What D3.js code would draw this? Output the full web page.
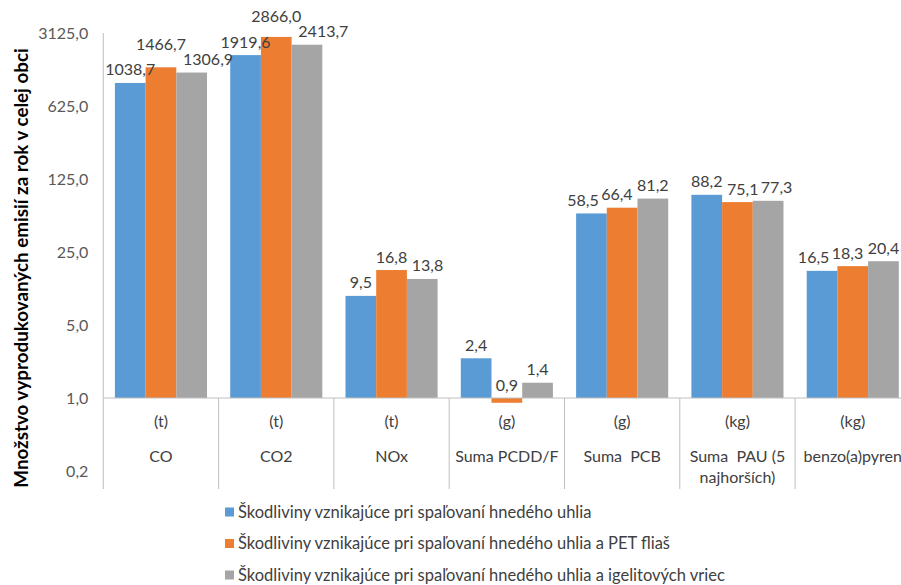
<!DOCTYPE html>
<html>
<head>
<meta charset="utf-8">
<script src="https://cdn.jsdelivr.net/npm/d3@7"></script>
<style>
  html, body { margin: 0; padding: 0; background: #fff; overflow: hidden; }
  svg { display: block; font-family: Lato, "Open Sans", sans-serif; }
</style>
</head>
<body>
<svg id="chart" width="901" height="585"></svg>
<script>
// ---- data ----
const categories = ["CO", "CO2", "NOx", "Suma PCDD/F", "Suma  PCB", "Suma  PAU (5\nnajhorších)", "benzo(a)pyren"];
const units = ["(t)", "(t)", "(t)", "(g)", "(g)", "(kg)", "(kg)"];
const seriesNames = [
  "Škodliviny vznikajúce pri spaľovaní hnedého uhlia",
  "Škodliviny vznikajúce pri spaľovaní hnedého uhlia a PET fliaš",
  "Škodliviny vznikajúce pri spaľovaní hnedého uhlia a igelitových vriec"
];
const seriesBrownCoal = [1038.7, 1919.6, 9.5, 2.4, 58.5, 88.2, 16.5];
const seriesPET = [1466.7, 2866.0, 16.8, 0.9, 66.4, 75.1, 18.3];
const seriesPlastic = [1306.9, 2413.7, 13.8, 1.4, 81.2, 77.3, 20.4];
const yTicks = [0.2, 1, 5, 25, 125, 625, 3125];
const colors = ["#5B9BD5", "#ED7D31", "#A5A5A5"];
const yTitle = "Množstvo vyprodukovaných emisií za rok v celej obci";

const seriesValues = [seriesBrownCoal, seriesPET, seriesPlastic];
const fmt = v => d3.format(".1f")(v).replace(".", ",");
const FS = "16px";

const svg = d3.select("#chart");
const plotLeft = 103.3, catW = 115.3;
const plotTop = 33, plotBottom = 489;

const x = d3.scaleBand().domain(categories).range([plotLeft, plotLeft + catW * categories.length]).padding(0);
const xi = d3.scaleBand().domain(d3.range(seriesNames.length)).range([11.6, catW - 11.6]).padding(0);
const y = d3.scaleLog().base(5).domain([0.2, 3125]).range([471, 33]);
const base = 1;

// y axis tick labels
const yAxis = d3.axisLeft(y).tickValues(yTicks).tickFormat(fmt).tickSize(0).tickPadding(15);
const gy = svg.append("g").attr("transform", `translate(${plotLeft},0)`).call(yAxis);
gy.select(".domain").remove();
gy.selectAll("text").attr("fill", "#595959").style("font-size", FS).style("font-family", "Lato, sans-serif");

// axis lines
svg.append("line").attr("x1", plotLeft).attr("x2", plotLeft).attr("y1", plotTop).attr("y2", plotBottom)
  .attr("stroke", "#BFBFBF").attr("stroke-width", 1);

// bars
const groups = svg.append("g").selectAll("g").data(categories).join("g")
  .attr("transform", c => `translate(${x(c)},0)`);
groups.each(function(c, ci) {
  const g = d3.select(this);
  seriesValues.forEach((vals, si) => {
    const v = vals[ci];
    const y0 = y(base), y1 = y(v);
    g.append("rect")
      .attr("x", xi(si)).attr("width", xi.bandwidth())
      .attr("y", Math.min(y0, y1)).attr("height", Math.abs(y0 - y1))
      .attr("fill", colors[si]);
  });
});

// horizontal category axis at 1.0
svg.append("line").attr("x1", plotLeft).attr("x2", x.range()[1]).attr("y1", y(base)).attr("y2", y(base))
  .attr("stroke", "#BFBFBF").attr("stroke-width", 1);
categories.forEach((c, i) => {
  if (i === 0) return;
  svg.append("line").attr("x1", x(c)).attr("x2", x(c)).attr("y1", y(base)).attr("y2", plotBottom)
    .attr("stroke", "#BFBFBF").attr("stroke-width", 1);
});

// category labels
categories.forEach((c, i) => {
  const cx = x(c) + catW / 2;
  svg.append("text").attr("x", cx).attr("y", y(base) + 29).attr("text-anchor", "middle")
    .attr("fill", "#404040").style("font-size", FS).text(units[i]);
  c.split("\n").forEach((line, li) => {
    svg.append("text").attr("x", cx).attr("y", y(base) + 64 + li * 21).attr("text-anchor", "middle")
      .attr("fill", "#404040").style("font-size", FS).style("white-space", "pre").attr("xml:space", "preserve").text(line);
  });
});

// value labels with simple collision avoidance
const labelLayer = svg.append("g");
const LH_PUSH = 20, LH_LIFT = 15, GAP = 8;
categories.forEach((c, ci) => {
  const labels = seriesValues.map((vals, si) => {
    const v = vals[ci];
    const topY = Math.min(y(v), y(base));
    const cx = x(c) + xi(si) + xi.bandwidth() / 2;
    const t = labelLayer.append("text")
      .attr("text-anchor", "middle").attr("fill", "#404040").style("font-size", FS)
      .text(fmt(v));
    const w = t.node().getComputedTextLength();
    return { t, cx, cy: topY - 13, w, v };
  });
  const overlapX = (a, b) => (a.w + b.w) / 2 + GAP - Math.abs(b.cx - a.cx);
  const overlapY = (a, b, h) => h - Math.abs(b.cy - a.cy);
  // first: lift the higher-valued label where labels really collide
  for (let i = 0; i < labels.length - 1; i++) {
    const a = labels[i], b = labels[i + 1];
    const oy = overlapY(a, b, LH_LIFT);
    if (overlapX(a, b) - GAP > 6 && oy > 0) {
      const hi = a.v > b.v ? a : b;
      hi.cy -= oy;
    }
  }
  // then push sideways away from the tallest label
  const anchor = d3.maxIndex(labels, d => d.v);
  for (let i = anchor + 1; i < labels.length; i++) {
    const a = labels[i - 1], b = labels[i];
    const ox = overlapX(a, b);
    if (overlapY(a, b, LH_PUSH) > 0 && ox > 0) b.cx += ox * 0.6;
  }
  for (let i = anchor - 1; i >= 0; i--) {
    const a = labels[i], b = labels[i + 1];
    const ox = overlapX(a, b);
    if (overlapY(a, b, LH_PUSH) > 0 && ox > 0) a.cx -= ox * 0.6;
  }
  labels.forEach(l => l.t.attr("x", l.cx).attr("y", l.cy + 5.5));
});

// y title
svg.append("text")
  .attr("transform", "translate(28,268) rotate(-90)")
  .attr("text-anchor", "middle").attr("fill", "#000")
  .style("font-size", "18.8px").style("font-weight", "bold")
  .text(yTitle);

// legend
const legend = svg.append("g");
seriesNames.forEach((n, i) => {
  const cy = 512 + i * 31.5;
  legend.append("rect").attr("x", 225).attr("y", cy - 4.5).attr("width", 9).attr("height", 9).attr("fill", colors[i]);
  legend.append("text").attr("x", 238).attr("y", cy + 5.5).attr("fill", "#404040").style("font-size", "16.5px").text(n);
});
</script>
</body>
</html>
